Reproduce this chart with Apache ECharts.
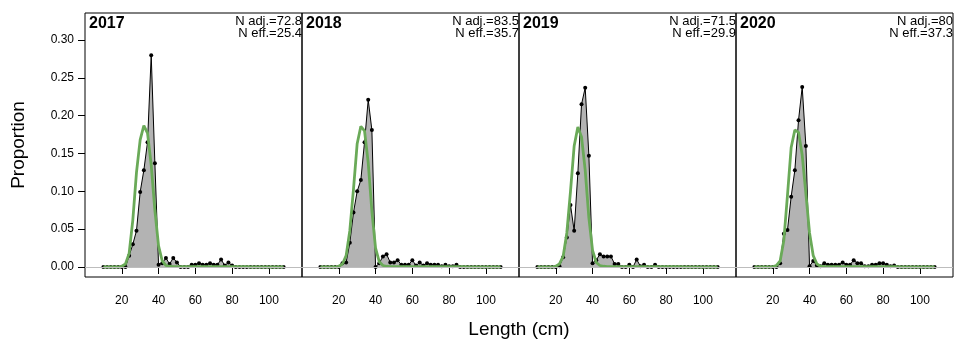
<!DOCTYPE html>
<html>
<head>
<meta charset="utf-8">
<script src="https://cdn.jsdelivr.net/npm/echarts@6/dist/echarts.min.js"></script>
<style>
html,body{margin:0;padding:0;background:#fff;}
#chart{width:955px;height:345px;}
</style>
</head>
<body>
<div id="chart"></div>
<script>
// ---- data ----
const lengthBins = [10,12,14,16,18,20,22,24,26,28,30,32,34,36,38,40,42,44,46,48,50,52,54,56,58,60,62,64,66,68,70,72,74,76,78,80,82,84,86,88,90,92,94,96,98,100,102,104,106,108];
const years = ['2017','2018','2019','2020'];
const nAdj = ['72.8','83.5','71.5','80'];
const nEff = ['25.4','35.7','29.9','37.3'];
const xTicks = [20,40,60,80,100];
const yTicks = [0,0.05,0.10,0.15,0.20,0.25,0.30];

const obs2017 = [0,0,0,0,0,0,0,0.015,0.030,0.048,0.099,0.128,0.165,0.280,0.137,0.003,0.005,0.012,0.004,0.012,0.006,0,0,0,0.003,0.003,0.005,0.003,0.003,0.005,0.003,0.003,0.010,0.002,0.006,0.002,0,0,0,0,0,0,0,0,0,0,0,0,0,0];
const obs2018 = [0,0,0,0,0,0,0.005,0.006,0.032,0.072,0.100,0.115,0.165,0.221,0.181,0,0.005,0.014,0.017,0.006,0.006,0.009,0.003,0.003,0.003,0.009,0.002,0.006,0.002,0.005,0.003,0.003,0.003,0.001,0.003,0.001,0.001,0.003,0,0,0,0,0,0,0,0,0,0,0,0];
const obs2019 = [0,0,0,0,0,0,0.001,0.013,0.039,0.082,0.048,0.124,0.215,0.237,0.147,0.005,0.009,0.017,0.014,0.014,0.014,0.004,0.004,0,0,0.003,0,0.010,0.001,0.003,0,0,0.003,0,0,0,0,0,0,0,0,0,0,0,0,0,0,0,0,0];
const obs2020 = [0,0,0,0,0,0,0,0.005,0.044,0.049,0.093,0.128,0.194,0.238,0.160,0.001,0.008,0.002,0.001,0.005,0.003,0.003,0.003,0.003,0.006,0.003,0.003,0.009,0.005,0.005,0.001,0.001,0.003,0.003,0.005,0.005,0.003,0.001,0.002,0,0,0,0,0,0,0,0,0,0,0];

const exp2017 = [0,0,0,0,0,0.001,0.004,0.018,0.062,0.125,0.168,0.187,0.177,0.135,0.075,0.028,0.008,0.002,0.001,0.0005,0.0005,0.0005,0.0005,0.0005,0.0005,0.0005,0.0005,0.0005,0.0005,0.0005,0.0005,0.0005,0.0005,0.0005,0.0005,0.0005,0.0005,0.0005,0.0005,0.0005,0,0,0,0,0,0,0,0,0,0];
const exp2018 = [0,0,0,0,0,0.001,0.004,0.015,0.048,0.103,0.163,0.186,0.180,0.138,0.074,0.025,0.007,0.002,0.001,0.0005,0.0005,0.0005,0.0005,0.0005,0.0005,0.0005,0.0005,0.0005,0.0005,0.0005,0.0005,0.0005,0.0005,0.0005,0.0005,0.0005,0.0005,0.0005,0.0005,0.0005,0,0,0,0,0,0,0,0,0,0];
const exp2019 = [0,0,0,0,0,0.001,0.004,0.014,0.045,0.100,0.160,0.185,0.172,0.128,0.065,0.022,0.006,0.002,0.001,0.0005,0.0005,0.0005,0.0005,0.0005,0.0005,0.0005,0.0005,0.0005,0.0005,0.0005,0.0005,0.0005,0.0005,0.0005,0.0005,0.0005,0.0005,0.0005,0.0005,0.0005,0,0,0,0,0,0,0,0,0,0];
const exp2020 = [0,0,0,0,0,0.0005,0.002,0.008,0.035,0.095,0.158,0.181,0.178,0.148,0.097,0.045,0.015,0.004,0.001,0.0005,0.0005,0.0005,0.0005,0.0005,0.0005,0.0005,0.0005,0.0005,0.0005,0.0005,0.0005,0.0005,0.0005,0.0005,0.0005,0.0005,0.0005,0.0005,0.0005,0.0005,0,0,0,0,0,0,0,0,0,0];

const observed = [obs2017, obs2018, obs2019, obs2020];
const expected = [exp2017, exp2018, exp2019, exp2020];

// ---- layout / style ----
const FONT = 'Liberation Sans, Arial, Helvetica, sans-serif';
const PANEL_LEFT = 85, PANEL_W = 217, PANEL_TOP = 13, PANEL_H = 264;
const GREEN = '#6aaa58';
const FILL = '#b3b3b3';

const chart = echarts.init(document.getElementById('chart'), null, {renderer: 'canvas'});

const grid = [], xAxis = [], yAxis = [], series = [], graphic = [];
years.forEach((yr, i) => {
  const left = PANEL_LEFT + i * PANEL_W;
  grid.push({left: left, top: PANEL_TOP, width: PANEL_W, height: PANEL_H,
    show: true, borderColor: '#000', borderWidth: 1, backgroundColor: 'transparent', containLabel: false});
  xAxis.push({type: 'value', gridIndex: i, min: 0, max: 118,
    axisLine: {show: false},
    splitLine: {show: false},
    axisTick: {show: true, inside: false, length: 7, lineStyle: {color: '#000', width: 1}, customValues: xTicks},
    axisLabel: {show: true, margin: 18, color: '#000', fontSize: 12, fontFamily: FONT, customValues: xTicks,
      formatter: v => String(v)}
  });
  yAxis.push({type: 'value', gridIndex: i, min: -0.0132, max: 0.3357,
    axisLine: {show: false},
    splitLine: {show: false},
    axisTick: {show: i === 0, inside: false, length: 7, lineStyle: {color: '#000', width: 1}, customValues: yTicks},
    axisLabel: {show: i === 0, margin: 11, color: '#000', fontSize: 12, fontFamily: FONT, customValues: yTicks,
      formatter: v => Number(v).toFixed(2)}
  });
  // zero reference line
  series.push({type: 'line', xAxisIndex: i, yAxisIndex: i, data: [], z: 1, silent: true,
    markLine: {silent: true, symbol: ['none','none'], label: {show: false},
      lineStyle: {color: '#bdbdbd', width: 1, type: 'solid'}, data: [{yAxis: 0}], animation: false}
  });
  // observed
  series.push({type: 'line', xAxisIndex: i, yAxisIndex: i, z: 2,
    data: lengthBins.map((b, j) => [b, observed[i][j]]),
    symbol: 'circle', symbolSize: 4, showSymbol: true,
    itemStyle: {color: '#000'},
    lineStyle: {color: '#000', width: 1},
    areaStyle: {color: FILL, opacity: 1},
    animation: false
  });
  // expected
  series.push({type: 'line', xAxisIndex: i, yAxisIndex: i, z: 3,
    data: lengthBins.map((b, j) => [b, expected[i][j]]),
    symbol: 'none', showSymbol: false,
    lineStyle: {color: GREEN, width: 2.8},
    animation: false
  });
  graphic.push({type: 'text', x: left + 4, y: 23.8, z: 10,
    style: {text: yr, font: 'bold 16px ' + FONT, fill: '#000', textAlign: 'left', textVerticalAlign: 'middle'}});
  graphic.push({type: 'text', x: left + PANEL_W, y: 21.5, z: 10,
    style: {text: 'N adj.=' + nAdj[i], font: '13px ' + FONT, fill: '#000', textAlign: 'right', textVerticalAlign: 'middle'}});
  graphic.push({type: 'text', x: left + PANEL_W, y: 33.2, z: 10,
    style: {text: 'N eff.=' + nEff[i], font: '13px ' + FONT, fill: '#000', textAlign: 'right', textVerticalAlign: 'middle'}});
});

graphic.push({type: 'text', x: 18.5, y: 145, rotation: Math.PI / 2,
  style: {text: 'Proportion', font: '19px ' + FONT, fill: '#000', textAlign: 'center', textVerticalAlign: 'middle'}});
graphic.push({type: 'text', x: PANEL_LEFT + 2 * PANEL_W, y: 330,
  style: {text: 'Length (cm)', font: '19px ' + FONT, fill: '#000', textAlign: 'center', textVerticalAlign: 'middle'}});

chart.setOption({
  animation: false,
  backgroundColor: '#fff',
  grid: grid, xAxis: xAxis, yAxis: yAxis, series: series, graphic: graphic
});
</script>
</body>
</html>
